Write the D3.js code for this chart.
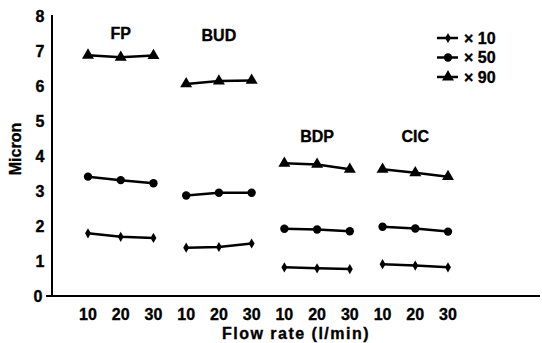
<!DOCTYPE html>
<html lang="en">
<head>
    <meta charset="UTF-8">
    <title>Micron vs flow rate</title>
    <script src="https://d3js.org/d3.v7.min.js"></script>
    <style>
        body { margin: 0; background: #fff; }
        text { font-family: "Liberation Sans", Arial, sans-serif; font-weight: bold; fill: #000; stroke: #000; stroke-width: 0.35px; }
    </style>
</head>
<body>
    <div id="chart"></div>
    <script>
        // data
        var groups = ["FP", "BUD", "BDP", "CIC"];
        var flowRates = ["10", "20", "30"];
        var yTicks = [0, 1, 2, 3, 4, 5, 6, 7, 8];
        var seriesNames = ["\u00d7 10", "\u00d7 50", "\u00d7 90"];
        var x10 = [[1.79, 1.69, 1.66], [1.38, 1.40, 1.50], [0.82, 0.79, 0.77], [0.91, 0.87, 0.82]];
        var x50 = [[3.41, 3.31, 3.22], [2.87, 2.95, 2.95], [1.92, 1.90, 1.85], [1.98, 1.93, 1.84]];
        var x90 = [[6.88, 6.82, 6.87], [6.06, 6.14, 6.16], [3.79, 3.76, 3.62], [3.62, 3.52, 3.41]];
        var series = [x10, x50, x90];

        var width = 542, height = 343;

        var svg = d3.select("#chart")
            .append("svg")
            .attr("width", width)
            .attr("height", height);

        // 12 slots along x: group x flow rate
        var slots = [];
        groups.forEach(function(g) {
            flowRates.forEach(function(f) { slots.push(g + "-" + f); });
        });

        var x = d3.scalePoint()
            .domain(slots)
            .range([88, 448]);

        var y = d3.scaleLinear()
            .domain([0, 8])
            .range([296, 16]);

        // axes
        svg.append("line")
            .attr("x1", 52).attr("x2", 52)
            .attr("y1", 15).attr("y2", 296)
            .attr("stroke", "#000").attr("stroke-width", 2);
        svg.append("line")
            .attr("x1", 46).attr("x2", 540)
            .attr("y1", 296).attr("y2", 296)
            .attr("stroke", "#000").attr("stroke-width", 2);

        svg.selectAll(".ytick")
            .data(yTicks)
            .enter()
            .append("text")
            .attr("class", "ytick")
            .attr("x", function(d) { return d === 0 ? 38 : 40; })
            .attr("y", function(d) { return y(d); })
            .attr("dy", "0.36em")
            .attr("text-anchor", "middle")
            .attr("font-size", "16px")
            .text(function(d) { return d; });

        svg.selectAll(".xtick")
            .data(slots)
            .enter()
            .append("text")
            .attr("class", "xtick")
            .attr("x", function(d) { return x(d); })
            .attr("y", 320)
            .attr("text-anchor", "middle")
            .attr("font-size", "16px")
            .text(function(d) { return d.split("-")[1]; });

        svg.append("text")
            .attr("x", 296)
            .attr("y", 339)
            .attr("text-anchor", "middle")
            .attr("font-size", "16px")
            .attr("letter-spacing", "1.5px")
            .text("Flow rate (l/min)");

        svg.append("text")
            .attr("transform", "translate(21,149) rotate(-90)")
            .attr("text-anchor", "middle")
            .attr("font-size", "16px")
            .text("Micron");

        // group labels
        var groupLabelY = [33, 35, 136, 136];
        svg.selectAll(".glabel")
            .data(groups)
            .enter()
            .append("text")
            .attr("class", "glabel")
            .attr("x", function(d) { return x(d + "-20"); })
            .attr("y", function(d, i) { return groupLabelY[i]; })
            .attr("dy", "0.36em")
            .attr("text-anchor", "middle")
            .attr("font-size", "16px")
            .text(function(d) { return d; });

        var symbols = [
            d3.symbol().type(d3.symbolDiamond).size(30),
            d3.symbol().type(d3.symbolCircle).size(55),
            d3.symbol().type(d3.symbolTriangle).size(62)
        ];

        var line = d3.line()
            .x(function(d) { return d.x; })
            .y(function(d) { return d.y; });

        series.forEach(function(s, si) {
            s.forEach(function(vals, gi) {
                var pts = vals.map(function(v, fi) {
                    return { x: x(groups[gi] + "-" + flowRates[fi]), y: y(v) };
                });
                svg.append("path")
                    .attr("d", line(pts))
                    .attr("fill", "none")
                    .attr("stroke", "#000")
                    .attr("stroke-width", 2.5);
                svg.selectAll(null)
                    .data(pts)
                    .enter()
                    .append("path")
                    .attr("d", symbols[si])
                    .attr("transform", function(d) { return "translate(" + d.x + "," + d.y + ")"; })
                    .attr("fill", "#000");
            });
        });

        // legend
        var legend = svg.selectAll(".legend")
            .data(seriesNames)
            .enter()
            .append("g")
            .attr("class", "legend")
            .attr("transform", function(d, i) { return "translate(437," + (38 + i * 19.5) + ")"; });
        legend.append("line")
            .attr("x1", 0).attr("x2", 21)
            .attr("stroke", "#000").attr("stroke-width", 2.5);
        legend.append("path")
            .attr("d", function(d, i) { return symbols[i](); })
            .attr("transform", "translate(11,0)")
            .attr("fill", "#000");
        legend.append("text")
            .attr("x", 27)
            .attr("dy", "0.36em")
            .attr("font-size", "16px")
            .text(function(d) { return d; });
    </script>
</body>
</html>
